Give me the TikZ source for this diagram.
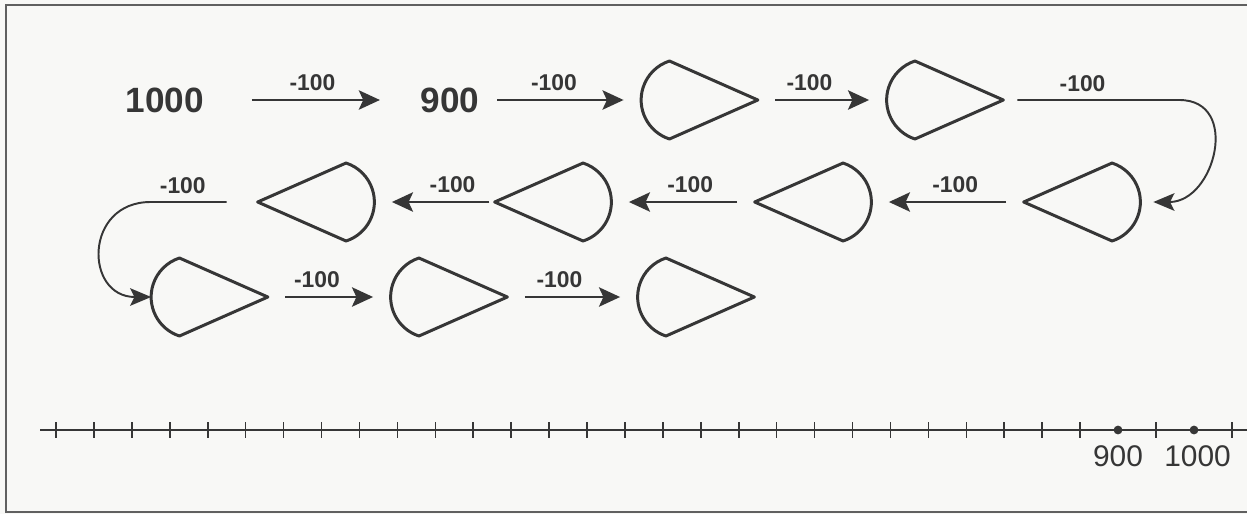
\documentclass[tikz,border=0pt]{standalone}
\usepackage{fontspec}
\setmainfont{Liberation Sans}
\usetikzlibrary{arrows.meta,calc,positioning}
\definecolor{ink}{HTML}{363636}
\definecolor{paper}{HTML}{F8F8F6}
\tikzset{
  drop/.style={rectangle, minimum width=2.32cm, minimum height=1.6cm, inner sep=0pt},
  outline/.style={draw=ink, line width=1.7pt, line join=round},
  arr/.style={draw=ink, line width=1.5pt, -{Stealth[length=12pt,width=11pt,inset=2.5pt]}, shorten <=10pt, shorten >=10pt},
  bendarr/.style={draw=ink, line width=1.1pt, -{Stealth[length=12pt,width=10pt,inset=2.5pt]}},
  lbl/.style={font=\bfseries\fontsize{13}{15}\selectfont, text=ink, above=1pt, pos=0.42},
  num/.style={font=\bfseries\fontsize{20}{24}\selectfont, text=ink, inner sep=0pt},
  axislbl/.style={font=\fontsize{17}{20}\selectfont, text=ink, inner sep=0pt},
  dot/.style={circle, fill=ink, inner sep=0pt, minimum size=5pt}
}
\begin{document}
\begin{tikzpicture}[x=0.02cm, y=-0.02cm]
    \fill[paper] (0,0) rectangle (1247,514);
    \useasboundingbox (0,0) rectangle (1247,514);
    \draw[gray!75!black, line width=1pt] (1247,5) -- (6,5) -- (6,512) -- (1247,512);

    % Nodes
    \node[num] (n1000) at (165,100) {1000};
    \node[num] (n900) at (450,100) {900};
    \node[drop] (s1) at (699.5,100) {};
    \node[drop] (s2) at (945,100) {};
    \node[drop] (s3) at (1082,202) {};
    \node[drop] (s4) at (813,202) {};
    \node[drop] (s6) at (553,202) {};
    \node[drop] (s5) at (316,202) {};
    \node[drop] (s7) at (209.5,297) {};
    \node[drop] (s8) at (449,297) {};
    \node[drop] (s9) at (696,297) {};

    % Drop outlines
    \foreach \n in {s1,s2,s7,s8,s9}
        \draw[outline] (\n.east) -- ($(\n.west)+(28.3,39)$) arc[start angle=108, end angle=252, radius=41] -- cycle;
    \foreach \n in {s3,s4,s6,s5}
        \draw[outline] (\n.west) -- ($(\n.east)+(-28.3,39)$) arc[start angle=72, end angle=-72, radius=41] -- cycle;

    % Arrows
    \draw[arr, shorten <=27pt, shorten >=23pt] (n1000) -- node[lbl, pos=0.5] {-100} (n900);
    \draw[arr] (n900) -- node[lbl, pos=0.46] {-100} (s1);
    \draw[arr] (s1) -- node[lbl, pos=0.4] {-100} (s2);
    \draw[bendarr, shorten <=8pt] (s2.east) -- node[lbl, pos=0.45] {-100} ($(s2.east)+(176,0)$)
        to[out=0, in=0, looseness=1.5] ($(s3.east)+(13,0)$);
    \draw[arr] (s3) -- node[lbl, pos=0.45] {-100} (s4);
    \draw[arr] (s4) -- node[lbl, pos=0.45] {-100} (s6);
    \draw[arr, shorten <=3pt] (s6) -- node[lbl, pos=0.35] {-100} (s5);
    \draw[bendarr, shorten <=17.6pt] (s5.west) -- node[lbl, pos=0.7] {-100} ($(s5.west)+(-107,0)$)
        to[out=180, in=180, looseness=1.8] (s7.west);
    \draw[arr] (s7) -- node[lbl, pos=0.4] {-100} (s8);
    \draw[arr] (s8) -- node[lbl, pos=0.4] {-100} (s9);

    % Number line
    \draw[ink, line width=1pt] (40,430) -- (1247,430);
    \foreach \i in {0,...,27,29,31}
        \draw[ink, line width=0.9pt] ({56+37.93*\i},422) -- ++(0,16);
    \node[dot] (d900) at (1118,430) {};
    \node[dot] (d1000) at (1194,430) {};
    \node[axislbl, below=6pt of d900] (l900) {900};
    \node[axislbl, below=6pt of d1000, xshift=2pt] (l1000) {1000};
\end{tikzpicture}
\end{document}
